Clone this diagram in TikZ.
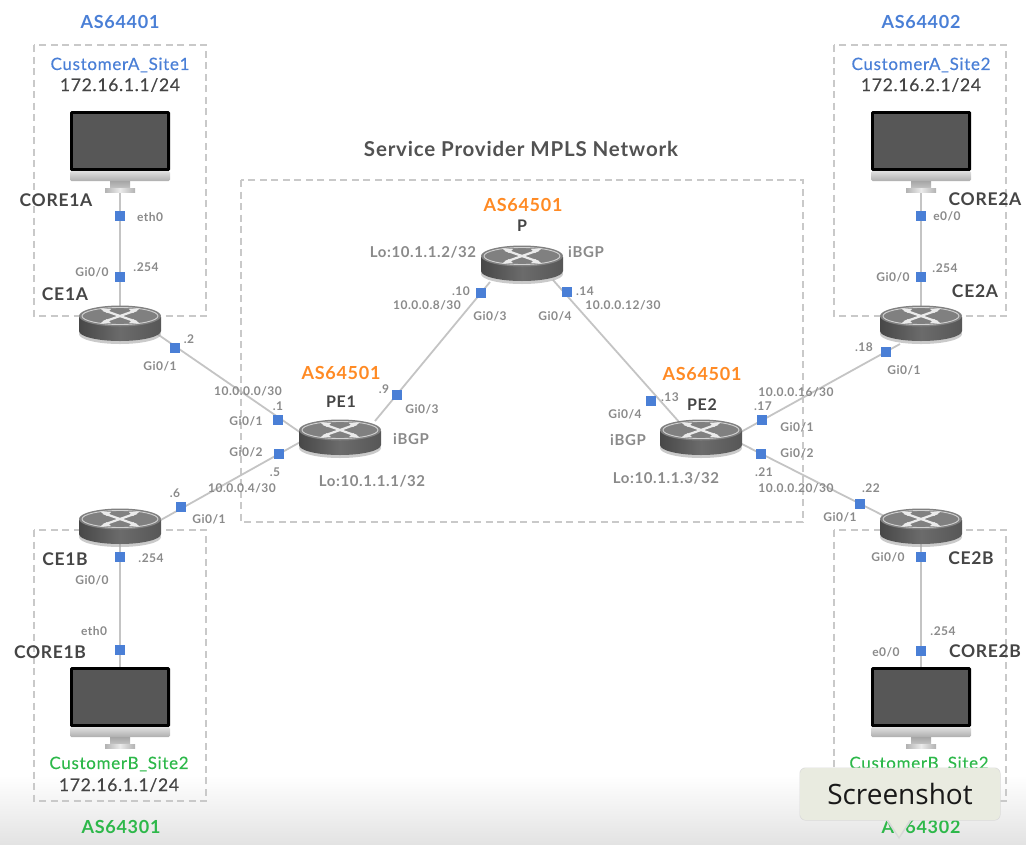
\documentclass[tikz,border=0pt]{standalone}
\usepackage{fontspec}
\setmainfont{Lato}[LetterSpace=4]
\newfontfamily\medfont{Lato}[LetterSpace=4,FakeBold=0.25]
\newfontfamily\tipfont{Open Sans}
\usetikzlibrary{calc}
\definecolor{dashgray}{HTML}{C9C9C9}
\definecolor{linegray}{HTML}{C4C4C4}
\definecolor{portblue}{HTML}{4A7FD6}
\definecolor{asorange}{HTML}{FF8A24}
\definecolor{sitegreen}{HTML}{2DB84A}
\definecolor{labelgray}{HTML}{8A8A8A}
\definecolor{darktext}{HTML}{454545}
\definecolor{tipfill}{HTML}{E9EBE0}
\tikzset{
  sitebox/.style={draw=dashgray,line width=1.8pt,dash pattern=on 7pt off 4.5pt},
  link/.style={draw=linegray,line width=1.8pt},
  port/.style={fill=portblue,draw=none,minimum size=9.5pt,inner sep=0pt,rectangle},
  dev/.style={rectangle,draw=none,inner sep=0pt,minimum width=82pt,minimum height=36pt},
  mon/.style={rectangle,draw=none,inner sep=0pt,minimum width=100pt,minimum height=80pt},
  sm/.style={inner sep=0pt,text=labelgray,font=\fontsize{12}{13}\selectfont\bfseries},
  lo/.style={inner sep=0pt,text=labelgray,font=\fontsize{15}{16}\selectfont\bfseries},
  hostn/.style={inner sep=0pt,text=darktext,font=\fontsize{17.5}{18}\selectfont\bfseries},
  hostm/.style={inner sep=0pt,text=darktext,font=\fontsize{16}{17}\selectfont\bfseries},
  asn/.style={inner sep=0pt,font=\fontsize{18}{19}\selectfont\bfseries},
  site/.style={inner sep=0pt,font=\medfont\fontsize{17}{18}\selectfont},
  addr/.style={inner sep=0pt,text=darktext,font=\medfont\fontsize{17.5}{18}\selectfont},
  routerpic/.pic={
    \fill[black!35,opacity=.6] (0,10) ellipse [x radius=41,y radius=10];
    \shade[left color=black!72,right color=black!66,middle color=black!58]
      (-41,-7) -- (-41,7) arc[start angle=180,end angle=0,x radius=41,y radius=10] -- (41,-7) -- cycle;
    \fill[black!50] (0,-8) ellipse [x radius=41,y radius=10.5];
    \draw[black!18,line width=.9pt] (0,-8) ellipse [x radius=38,y radius=8.5];
    \draw[white!92!black,line width=2.2pt] (-17,-14) -- (17,-2);
    \draw[white!92!black,line width=2.2pt] (17,-14) -- (-17,-2);
    \fill[white!92!black] (-20,-15.5) -- (-9,-15) -- (-13,-11) -- cycle;
    \fill[white!92!black] (20,-15.5) -- (9,-15) -- (13,-11) -- cycle;
    \fill[white!92!black] (-20,-.5) -- (-9,-1) -- (-13,-5) -- cycle;
    \fill[white!92!black] (20,-.5) -- (9,-1) -- (13,-5) -- cycle;
  },
  monitorpic/.pic={
    \fill[black,rounded corners=1.5pt] (-50,-40) rectangle (50,20);
    \fill[black!66] (-47,-37) rectangle (47,17);
    \shade[top color=black!12,bottom color=black!32,rounded corners=1.5pt] (-50,20) rectangle (50,30);
    \shade[top color=black!35,bottom color=black!22] (-10,30) rectangle (10,38);
    \shade[left color=black!30,right color=black!30,middle color=black!8] (-15,37.5) rectangle (15,41);
  },
}
\begin{document}
\begin{tikzpicture}[x=1pt,y=-1pt]
\useasboundingbox (0,0) rectangle (1026,844);
\shade[top color=white,bottom color=black!11,draw=none] (0,775) rectangle (1026,844);
% site boxes
\path[sitebox] (34,45) rectangle (206,316);
\path[sitebox] (834,45) rectangle (1006,316);
\path[sitebox] (34,530) rectangle (206,801);
\path[sitebox] (834,530) rectangle (1006,801);
\path[sitebox] (241,180) rectangle (803,522);
% device anchors
\node[dev] (ce1a) at (120,324) {};
\node[dev] (ce2a) at (921,324) {};
\node[dev] (ce1b) at (120,527) {};
\node[dev] (ce2b) at (921,527) {};
\node[dev] (pcore) at (522,264) {};
\node[dev] (pe1) at (340,438) {};
\node[dev] (pe2) at (701,438) {};
\node[mon] (core1a) at (120,151) {};
\node[mon] (core2a) at (921,151) {};
\node[mon] (core1b) at (120,707) {};
\node[mon] (core2b) at (921,707) {};
% connectors
\path[link] (core1a.south) -- (ce1a.center);
\path[link] (core2a.south) -- (ce2a.center);
\path[link] (core1b.north) -- (ce1b.center);
\path[link] (core2b.north) -- (ce2b.center);
\path[link] ($(ce1a)+(30,5)$) -- ($(pe1)+(-20,8)$);
\path[link] ($(ce1b)+(30,-1)$) -- ($(pe1)+(-20,-7)$);
\path[link] ($(pcore)+(-32,18)$) -- ($(pe1)+(35,-17)$);
\path[link] ($(pcore)+(31,16)$) -- ($(pe2)+(-21,-15)$);
\path[link] ($(pe2)+(29,0)$) -- ($(ce2a)+(-21,20)$);
\path[link] ($(pe2)+(29,0)$) -- ($(ce2b)+(-21,-3)$);
% devices
\foreach \d in {ce1a,ce2a,ce1b,ce2b,pcore,pe1,pe2} {\pic at (\d) {routerpic};}
\foreach \d in {core1a,core2a,core1b,core2b} {\pic at (\d) {monitorpic};}
% ports
\foreach \px/\py [count=\i] in {120/216,120/277,175/348,278/420,279/454,181/507,120/557,120/650,397/395,481/293,567/292,651/401,762/420,761/454,860/504,886/352,921/216,921/277,921/557,921/651}
  {\node[port,name=sq\i] at (\px,\py) {};}
% headings
\node[inner sep=0pt,text=black!68,font=\fontsize{20.5}{22}\selectfont\bfseries] (title) at (521,149) {Service Provider MPLS Network};
\node[asn,text=portblue] (as1) at (120,22) {AS64401};
\node[asn,text=portblue] (as2) at (921,22) {AS64402};
\node[asn,text=sitegreen] (as3) at (121,827) {AS64301};
\node[asn,text=sitegreen] (as4) at (921,827) {AS64302};
\node[asn,text=asorange] (as5) at (523,205) {AS64501};
\node[asn,text=asorange] (as6) at (341,373) {AS64501};
\node[asn,text=asorange] (as7) at (702,374) {AS64501};
\node[site,text=portblue] (s1) at (120,65) {CustomerA\_Site1};
\node[site,text=portblue] (s2) at (921,65) {CustomerA\_Site2};
\node[site,text=sitegreen] (s3) at (119,764) {CustomerB\_Site2};
\node[site,text=sitegreen] (s4) at (919,764) {CustomerB\_Site2};
\node[addr] (a1) at (120,85) {172.16.1.1/24};
\node[addr] (a2) at (921,85) {172.16.2.1/24};
\node[addr] (a3) at (119,785) {172.16.1.1/24};
% host names
\node[hostn] (h1) at (56,200) {CORE1A};
\node[hostn] (h2) at (65,294) {CE1A};
\node[hostn] (h3) at (65,559) {CE1B};
\node[hostn] (h4) at (50,652) {CORE1B};
\node[hostn] (h5) at (985,199) {CORE2A};
\node[hostn] (h6) at (975,291) {CE2A};
\node[hostn] (h7) at (971,558) {CE2B};
\node[hostn] (h8) at (985,651) {CORE2B};
\node[hostm] (h9) at (522,226) {P};
\node[hostm] (h10) at (341,402) {PE1};
\node[hostm] (h11) at (702,405) {PE2};
% loopbacks and iBGP
\node[lo] (o1) at (423,252) {Lo:10.1.1.2/32};
\node[lo] (o2) at (586,252) {iBGP};
\node[lo] (o3) at (411,439) {iBGP};
\node[lo] (o4) at (372,481) {Lo:10.1.1.1/32};
\node[lo] (o5) at (628,440) {iBGP};
\node[lo] (o6) at (666,478) {Lo:10.1.1.3/32};
% small labels
\node[sm] (t1) at (150,217) {eth0};
\node[sm] (t2) at (92,272) {Gi0/0};
\node[sm] (t3) at (146,267) {.254};
\node[sm] (t4) at (160,366) {Gi0/1};
\node[sm] (t5) at (189,339) {.2};
\node[sm] (t6) at (248,391) {10.0.0.0/30};
\node[sm] (t7) at (278,406) {.1};
\node[sm] (t8) at (246,421) {Gi0/1};
\node[sm] (t9) at (246,452) {Gi0/2};
\node[sm] (t10) at (275,472) {.5};
\node[sm] (t11) at (242,488) {10.0.0.4/30};
\node[sm] (t12) at (175,493) {.6};
\node[sm] (t13) at (209,519) {Gi0/1};
\node[sm] (t14) at (151,558) {.254};
\node[sm] (t15) at (92,580) {Gi0/0};
\node[sm] (t16) at (94,631) {eth0};
\node[sm] (t17) at (384,389) {.9};
\node[sm] (t18) at (422,409) {Gi0/3};
\node[sm] (t19) at (461,291) {.10};
\node[sm] (t20) at (427,305) {10.0.0.8/30};
\node[sm] (t21) at (490,316) {Gi0/3};
\node[sm] (t22) at (555,316) {Gi0/4};
\node[sm] (t23) at (585,291) {.14};
\node[sm] (t24) at (623,305) {10.0.0.12/30};
\node[sm] (t25) at (670,397) {.13};
\node[sm] (t26) at (625,414) {Gi0/4};
\node[sm] (t27) at (947,216) {e0/0};
\node[sm] (t28) at (893,277) {Gi0/0};
\node[sm] (t29) at (945,268) {.254};
\node[sm] (t30) at (904,370) {Gi0/1};
\node[sm] (t31) at (864,347) {.18};
\node[sm] (t32) at (796,392) {10.0.0.16/30};
\node[sm] (t33) at (763,406) {.17};
\node[sm] (t34) at (797,427) {Gi0/1};
\node[sm] (t35) at (797,453) {Gi0/2};
\node[sm] (t36) at (764,472) {.21};
\node[sm] (t37) at (796,488) {10.0.0.20/30};
\node[sm] (t38) at (871,488) {.22};
\node[sm] (t39) at (840,517) {Gi0/1};
\node[sm] (t40) at (888,557) {Gi0/0};
\node[sm] (t41) at (943,631) {.254};
\node[sm] (t42) at (886,652) {e0/0};
% tooltip
\fill[black!15,rounded corners=6pt] (799.5,767.5) rectangle (1000.5,820.5);
\fill[black!15] (886,820) -- (899,839) -- (912,820) -- cycle;
\fill[tipfill] (888,819) -- (899,836.5) -- (910,819) -- cycle;
\node[fill=tipfill,rounded corners=6pt,inner sep=0pt,minimum width=200pt,minimum height=52pt,text=black!90,font=\tipfont\fontsize{28}{29}\selectfont] (tip) at (900,794) {Screenshot};
\end{tikzpicture}
\end{document}
